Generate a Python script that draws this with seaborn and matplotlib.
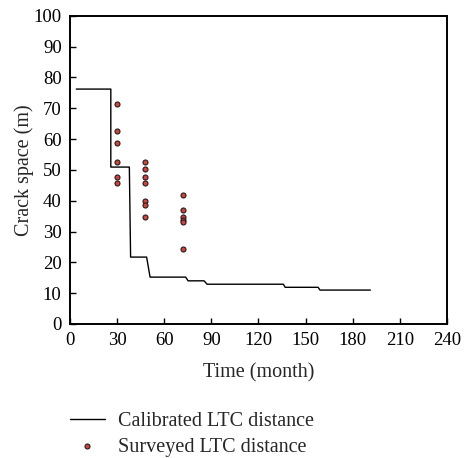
import matplotlib
matplotlib.use("Agg")
import matplotlib.pyplot as plt
import seaborn as sns
import pandas as pd

# Calibrated LTC distance (step curve)
calib_month = [4, 26, 26, 37.8, 38.6, 48.8, 51, 73.7, 75.2, 85.4, 87.3, 135.9, 137, 158, 159.2, 191.3]
calib_space = [76.2, 76.2, 50.9, 50.9, 21.7, 21.7, 15.2, 15.2, 14.0, 14.0, 12.9, 12.9, 11.9, 11.9, 11.0, 11.0]

# Surveyed LTC distance
survey_month = [30, 30, 30, 30, 30, 30,
                48, 48, 48, 48, 48, 48, 48,
                72, 72, 72, 72, 72, 72]
survey_space = [71.4, 62.5, 58.8, 52.6, 47.7, 45.6,
                52.6, 50.2, 47.7, 45.6, 40.0, 38.5, 34.6,
                41.7, 37.0, 34.6, 33.8, 33.1, 24.4]

x_ticks = [0, 30, 60, 90, 120, 150, 180, 210, 240]
y_ticks = [0, 10, 20, 30, 40, 50, 60, 70, 80, 90, 100]

sns.set_theme(style="ticks")
plt.rcParams["font.family"] = ["Liberation Serif", "DejaVu Serif"]

calib = pd.DataFrame({"month": calib_month, "space": calib_space})
survey = pd.DataFrame({"month": survey_month, "space": survey_space})

fig = plt.figure(figsize=(4.65, 4.58), dpi=100)
ax = fig.add_axes([0.1505, 0.2926, 0.8105, 0.6731])

sns.lineplot(data=calib, x="month", y="space", ax=ax, color="black",
             linewidth=1.0, sort=False, estimator=None, label="Calibrated LTC distance")
sns.scatterplot(data=survey, x="month", y="space", ax=ax, color="#c8463e",
                edgecolor="#2a1a1a", linewidth=0.8, s=13, marker="o",
                label="Surveyed LTC distance", zorder=3)

ax.set_xlim(0, 240)
ax.set_ylim(0, 100)
ax.set_xticks(x_ticks)
ax.set_yticks(y_ticks)
ax.tick_params(direction="in", length=4, width=1.0, labelsize=13.5, pad=6,
               top=False, right=False, colors="black")
for s in ax.spines.values():
    s.set_linewidth(1.4)
    s.set_color("black")
    s.set_visible(True)
ax.set_xlabel("Time (month)", fontsize=14.5, labelpad=10)
ax.set_ylabel("Crack space (m)", fontsize=14.5, labelpad=0)

h, l = ax.get_legend_handles_labels()
ax.get_legend().remove()
fig.legend(h, l, loc="upper left", bbox_to_anchor=(0.15, 0.101),
           frameon=False, fontsize=14.5, handlelength=1.75, handletextpad=0.65,
           labelspacing=0.34, borderaxespad=0, borderpad=0)

fig.savefig("out.png", dpi=100, facecolor="white")
